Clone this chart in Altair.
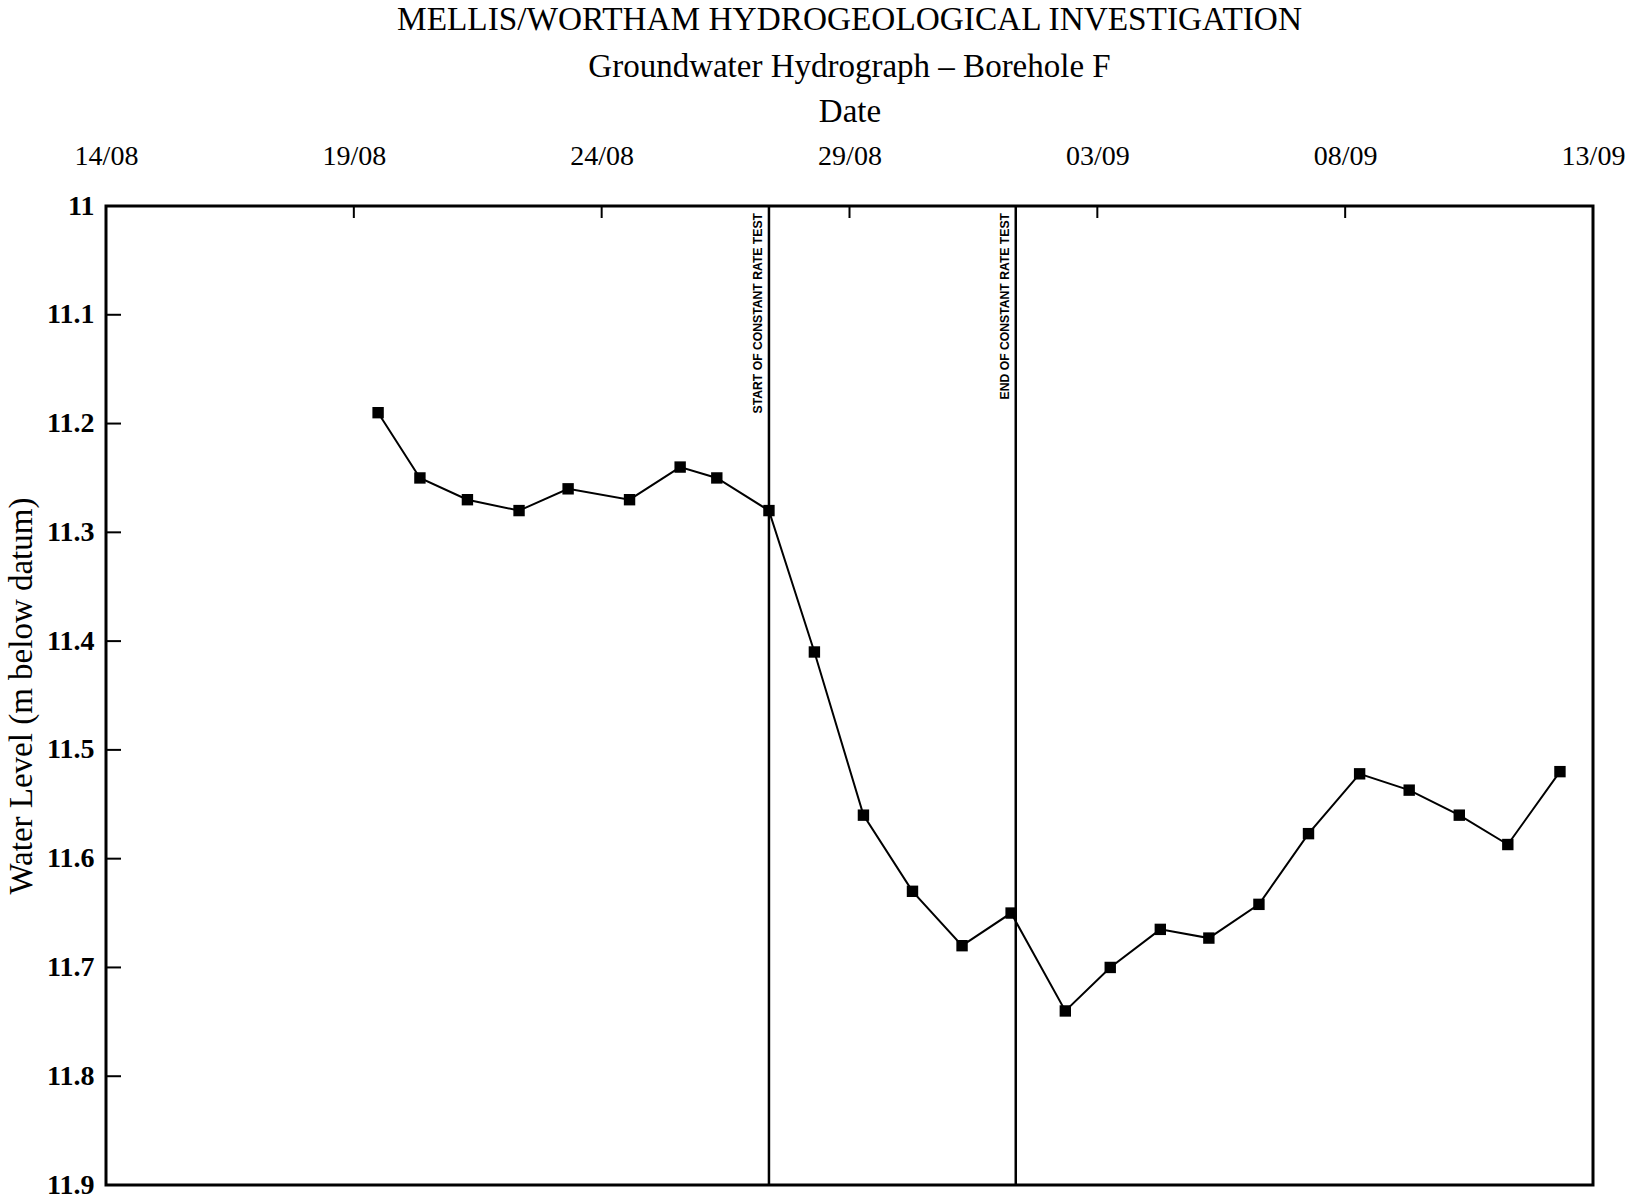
import altair as alt
import pandas as pd

# Dipped water levels in Borehole F (m below datum) and the time of each dip
reading_times = [
    "1993-08-19T11:45", "1993-08-20T08:00", "1993-08-21T07:00", "1993-08-22T08:00",
    "1993-08-23T07:45", "1993-08-24T13:30", "1993-08-25T14:00", "1993-08-26T07:45",
    "1993-08-27T09:00", "1993-08-28T07:00", "1993-08-29T06:45", "1993-08-30T06:30",
    "1993-08-31T06:30", "1993-09-01T06:15", "1993-09-02T08:30", "1993-09-03T06:15",
    "1993-09-04T06:30", "1993-09-05T06:00", "1993-09-06T06:15", "1993-09-07T06:15",
    "1993-09-08T07:00", "1993-09-09T07:00", "1993-09-10T07:15", "1993-09-11T06:45",
    "1993-09-12T08:00",
]
water_levels = [
    11.19, 11.25, 11.27, 11.28, 11.26, 11.27, 11.24, 11.25, 11.28, 11.41,
    11.56, 11.63, 11.68, 11.65, 11.74, 11.70, 11.665, 11.673, 11.642, 11.577,
    11.522, 11.537, 11.56, 11.587, 11.52,
]

# Pumping test start / end markers
test_labels = ["START OF CONSTANT RATE TEST", "END OF CONSTANT RATE TEST"]
test_times = ["1993-08-27T09:00", "1993-09-01T08:30"]

# Axis tick positions
date_ticks = [
    "1993-08-14T00:00", "1993-08-19T00:00", "1993-08-24T00:00", "1993-08-29T00:00",
    "1993-09-03T00:00", "1993-09-08T00:00", "1993-09-13T00:00",
]
level_ticks = [11.0, 11.1, 11.2, 11.3, 11.4, 11.5, 11.6, 11.7, 11.8, 11.9]

SERIF = "Liberation Serif"


def to_dt(s):
    t = pd.Timestamp(s)
    return alt.DateTime(year=t.year, month=t.month, date=t.day, hours=t.hour, minutes=t.minute)


readings = pd.DataFrame({"time": reading_times, "level": water_levels})
events = pd.DataFrame({"time": test_times, "label": test_labels})
x_marks = pd.DataFrame({"time": date_ticks[1:-1]})
y_marks = pd.DataFrame({"level": level_ticks[1:-1]})

x_scale = alt.Scale(domain=[to_dt(date_ticks[0]), to_dt(date_ticks[-1])], nice=False)
y_scale = alt.Scale(domain=[level_ticks[0], level_ticks[-1]], reverse=True, zero=False, nice=False)

x_axis = alt.Axis(
    orient="top", title="Date", format="%d/%m",
    values=[to_dt(d) for d in date_ticks],
    ticks=False, tickSize=0, domain=False, grid=False,
    labelFlush=False, labelOverlap=False, labelBound=False,
    labelFont=SERIF, labelFontSize=28, labelColor="black", labelPadding=36,
    titleFont=SERIF, titleFontSize=33, titleFontWeight="normal", titleColor="black",
    titlePadding=14,
)
y_axis = alt.Axis(
    orient="left", title="Water Level (m below datum)", format=".1~f",
    values=level_ticks,
    ticks=False, tickSize=0, domain=False, grid=False,
    labelFlush=False, labelOverlap=False,
    labelFont=SERIF, labelFontSize=28, labelFontWeight="bold", labelColor="black",
    labelPadding=12,
    titleFont=SERIF, titleFontSize=33, titleFontWeight="normal", titleColor="black",
    titlePadding=8,
)

X = alt.X("time:T", scale=x_scale, axis=x_axis, title="Date")
Y = alt.Y("level:Q", scale=y_scale, axis=y_axis, title="Water Level (m below datum)")

line = alt.Chart(readings).mark_line(color="black", strokeWidth=2).encode(x=X, y=Y)
points = alt.Chart(readings).mark_point(
    shape="square", filled=True, size=130, color="black", opacity=1
).encode(x=X, y=Y)

# Inward tick marks along the top and left of the frame
top_ticks = alt.Chart(x_marks).mark_rule(color="black", strokeWidth=2).encode(
    x=X, y=alt.value(0), y2=alt.value(12),
)
left_ticks = alt.Chart(y_marks).mark_rule(color="black", strokeWidth=2).encode(
    y=Y, x=alt.value(0), x2=alt.value(15),
)

event_rules = alt.Chart(events).mark_rule(color="black", strokeWidth=2.5).encode(x=X)
event_text = alt.Chart(events).mark_text(
    angle=270, align="right", baseline="alphabetic", dy=-7,
    font="Liberation Sans", fontWeight="bold", fontSize=12.2, color="black",
).encode(x=X, y=alt.value(7), text="label:N")

chart = (
    alt.layer(event_rules, event_text, top_ticks, left_ticks, line, points)
    .properties(
        width=1487, height=979,
        autosize=alt.AutoSizeParams(type="none"),
        padding={"left": 106, "top": 206, "right": 34, "bottom": 13},
        background="white",
        title=alt.TitleParams(
            text="MELLIS/WORTHAM HYDROGEOLOGICAL INVESTIGATION",
            subtitle="Groundwater Hydrograph \u2013 Borehole F",
            font=SERIF, fontSize=33.3, fontWeight="normal", color="black",
            subtitleFont=SERIF, subtitleFontSize=33, subtitleColor="black",
            subtitlePadding=14, anchor="middle", frame="group", offset=10,
        ),
    )
    .configure_view(stroke="black", strokeWidth=3)
)

chart.save("out.html", embed_options={"renderer": "svg", "actions": False})
